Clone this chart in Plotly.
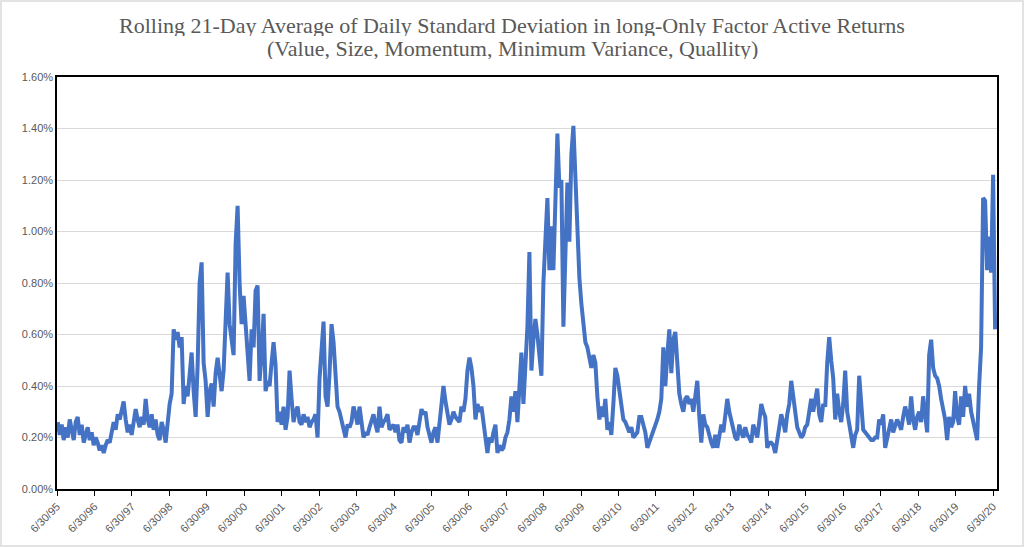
import pandas as pd
import plotly.graph_objects as go

start_date = "1995-07-07"
step = "468h"
std_pct = [
    .26, .21, .25, .19, .24, .20, .27, .22, .19, .26,
    .28, .21, .25, .18, .21, .24, .19, .22, .17, .20,
    .18, .15, .17, .14, .17, .19, .18, .22, .26, .23,
    .29, .27, .30, .34, .27, .22, .25, .21, .26, .31,
    .27, .24, .28, .25, .35, .27, .24, .29, .23, .27,
    .21, .19, .26, .23, .18, .28, .33, .37, .62, .58,
    .61, .55, .59, .33, .40, .36, .44, .53, .38, .28,
    .48, .80, .88, .49, .42, .28, .38, .41, .32, .45,
    .51, .45, .38, .46, .62, .84, .64, .57, .52, .95,
    1.10, .80, .64, .75, .63, .55, .42, .62, .55, .77,
    .79, .42, .52, .68, .38, .42, .40, .49, .57, .48,
    .26, .30, .25, .32, .23, .28, .46, .35, .26, .30,
    .32, .26, .25, .29, .26, .28, .24, .26, .27, .29,
    .20, .43, .55, .65, .36, .32, .45, .64, .57, .45,
    .32, .30, .26, .24, .20, .25, .24, .26, .32, .29,
    .25, .32, .25, .20, .22, .21, .24, .26, .29, .25,
    .22, .32, .24, .26, .27, .29, .23, .24, .25, .22,
    .25, .19, .18, .24, .22, .25, .18, .22, .24, .24,
    .21, .26, .31, .29, .30, .24, .20, .18, .22, .24,
    .18, .26, .32, .40, .34, .29, .25, .27, .30, .28,
    .27, .26, .32, .30, .35, .46, .51, .47, .40, .27,
    .33, .30, .32, .26, .22, .14, .20, .18, .22, .25,
    .14, .17, .15, .16, .20, .22, .27, .36, .30, .38,
    .26, .40, .53, .33, .45, .63, .92, .46, .58, .66,
    .60, .52, .44, .80, .95, 1.13, .85, 1.02, .85, 1.20,
    1.38, 1.17, 1.20, .63, .90, 1.19, .96, 1.30, 1.41, 1.20,
    .98, .82, .72, .64, .57, .55, .51, .47, .52, .49,
    .36, .27, .32, .28, .35, .23, .26, .21, .33, .47,
    .44, .38, .30, .27, .26, .24, .22, .24, .20, .21,
    .22, .28, .28, .25, .22, .16, .18, .20, .22, .25,
    .27, .30, .35, .55, .40, .52, .62, .45, .58, .61,
    .48, .37, .33, .30, .35, .36, .33, .35, .30, .38,
    .42, .28, .18, .29, .25, .24, .20, .18, .16, .21,
    .16, .20, .25, .22, .29, .35, .30, .26, .24, .20,
    .19, .25, .22, .20, .24, .21, .20, .18, .25, .23,
    .20, .26, .33, .30, .28, .16, .18, .18, .17, .14,
    .19, .25, .29, .26, .22, .29, .33, .42, .36, .28,
    .24, .22, .20, .21, .24, .25, .29, .35, .30, .36,
    .39, .29, .26, .33, .32, .49, .59, .50, .43, .27,
    .37, .30, .26, .33, .46, .30, .26, .22, .16, .21,
    .23, .44, .30, .23, .22, .21, .20, .19, .19, .20,
    .20, .27, .25, .29, .16, .20, .23, .27, .22, .24,
    .27, .25, .23, .28, .32, .29, .25, .36, .27, .23,
    .28, .30, .26, .36, .30, .22, .52, .58, .47, .44,
    .43, .40, .35, .30, .27, .19, .28, .24, .26, .38,
    .28, .25, .36, .28, .40, .32, .37, .30, .26, .22,
    .19, .40, .55, 1.13, 1.12, .85, .98, .84, 1.22, .62,
]
tick_dates = [f"{y}-06-30" for y in range(1995, 2021)]
tick_labels = [f"6/30/{y % 100:02d}" for y in range(1995, 2021)]
title_lines = [
    "Rolling 21-Day Average of Daily Standard Deviation in long-Only Factor Active Returns",
    "(Value, Size, Momentum, Minimum Variance, Quallity)",
]

dates = pd.date_range(start_date, periods=len(std_pct), freq=step)

fig = go.Figure(go.Scatter(
    x=dates, y=std_pct, mode="lines",
    line=dict(color="#4472C4", width=4),
    hoverinfo="skip"))

grey = "#595959"
W, H = 1024, 547
L, R, T, B = 57, 27, 77, 58
pw, ph = W - L - R, H - T - B

fig.update_layout(
    width=W, height=H,
    margin=dict(l=L, r=R, t=T, b=B),
    paper_bgcolor="white", plot_bgcolor="white",
    showlegend=False,
    font=dict(family="Liberation Sans", size=11, color=grey),
)
# two title lines, centred over the page
for i, line in enumerate(title_lines):
    fig.add_annotation(
        text=line, xref="paper", yref="paper",
        x=0.5 + (R - L) / 2 / pw, xanchor="center",
        y=1 + (T - 25 - 23 * i) / ph, yanchor="middle",
        height=22, valign="middle",
        showarrow=False,
        font=dict(family="Liberation Serif", size=22, color=grey))

fig.update_xaxes(
    range=["1995-06-30", "2020-08-08"],
    tickvals=tick_dates, ticktext=tick_labels, tickangle=-45,
    ticks="outside", ticklen=5, tickcolor="black",
    showgrid=False, showline=True, linecolor="black", linewidth=1.5, mirror=True,
    tickfont=dict(size=11, color=grey))
fig.update_yaxes(
    range=[0, 1.6], dtick=0.2, tickformat=".2f", ticksuffix="%",
    showgrid=True, gridcolor="#d9d9d9", gridwidth=1,
    showline=True, linecolor="black", linewidth=1.5, mirror=True,
    ticks="", tickfont=dict(size=11, color=grey))

# light grey frame round the whole picture
fig.add_shape(type="rect", xref="paper", yref="paper",
              x0=-L / pw, x1=1 + R / pw, y0=-B / ph, y1=1 + T / ph,
              line=dict(color="#e3e3e3", width=4), layer="below")

fig.write_html("out.html", config={"displayModeBar": False},
               post_script="document.body.style.margin='0';")
